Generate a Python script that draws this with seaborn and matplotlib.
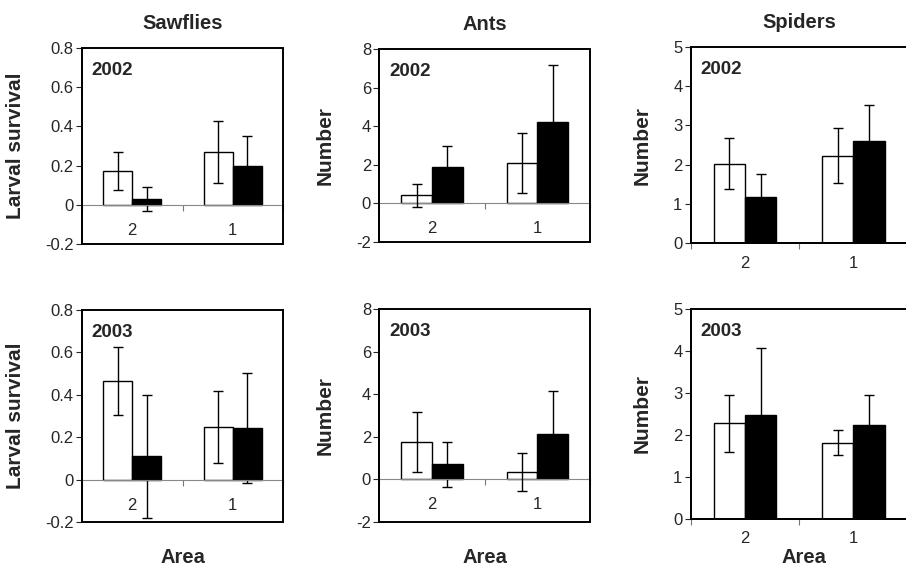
import numpy as np
import pandas as pd
import matplotlib
matplotlib.use("Agg")
import matplotlib.pyplot as plt
from matplotlib.patches import Rectangle
import seaborn as sns

# categories
areas = ["2", "1"]
groups = ["open", "filled"]

# Sawflies - larval survival (means and error half-widths, per area 2, 1)
saw_2002_open = [0.17, 0.27]
saw_2002_open_err = [0.097, 0.157]
saw_2002_filled = [0.03, 0.20]
saw_2002_filled_err = [0.06, 0.15]
saw_2003_open = [0.465, 0.25]
saw_2003_open_err = [0.16, 0.17]
saw_2003_filled = [0.11, 0.245]
saw_2003_filled_err = [0.29, 0.26]

# Ants - number
ant_2002_open = [0.42, 2.1]
ant_2002_open_err = [0.6, 1.55]
ant_2002_filled = [1.88, 4.24]
ant_2002_filled_err = [1.1, 2.95]
ant_2003_open = [1.74, 0.36]
ant_2003_open_err = [1.4, 0.9]
ant_2003_filled = [0.71, 2.13]
ant_2003_filled_err = [1.05, 2.0]

# Spiders - number
spi_2002_open = [2.02, 2.23]
spi_2002_open_err = [0.65, 0.7]
spi_2002_filled = [1.17, 2.61]
spi_2002_filled_err = [0.6, 0.9]
spi_2003_open = [2.28, 1.82]
spi_2003_open_err = [0.68, 0.3]
spi_2003_filled = [2.48, 2.24]
spi_2003_filled_err = [1.58, 0.72]

col_titles = ["Sawflies", "Ants", "Spiders"]
y_labels = ["Larval survival", "Number", "Number"]
y_ranges = [(-0.2, 0.8, 0.2), (-2, 8, 2), (0, 5, 1)]

panels = {
    (0, 0): (saw_2002_open, saw_2002_open_err, saw_2002_filled, saw_2002_filled_err, "2002"),
    (1, 0): (saw_2003_open, saw_2003_open_err, saw_2003_filled, saw_2003_filled_err, "2003"),
    (0, 1): (ant_2002_open, ant_2002_open_err, ant_2002_filled, ant_2002_filled_err, "2002"),
    (1, 1): (ant_2003_open, ant_2003_open_err, ant_2003_filled, ant_2003_filled_err, "2003"),
    (0, 2): (spi_2002_open, spi_2002_open_err, spi_2002_filled, spi_2002_filled_err, "2002"),
    (1, 2): (spi_2003_open, spi_2003_open_err, spi_2003_filled, spi_2003_filled_err, "2003"),
}

sns.set_style("white")
plt.rcParams["font.family"] = ["Liberation Sans", "DejaVu Sans"]
plt.rcParams["axes.unicode_minus"] = False

fig = plt.figure(figsize=(9.06, 5.67), dpi=100)

# axes boxes in figure fractions [left, bottom, width, height]
boxes = {
    (0, 0): [0.0905, 0.5697, 0.2219, 0.3457],
    (1, 0): [0.0905, 0.0794, 0.2219, 0.3739],
    (0, 1): [0.4187, 0.5732, 0.2326, 0.3404],
    (1, 1): [0.4187, 0.0794, 0.2326, 0.3757],
    (0, 2): [0.7624, 0.5714, 0.2395, 0.3457],
    (1, 2): [0.7624, 0.0847, 0.2395, 0.3704],
}
ylab_x = [-0.284, -0.21, -0.18]
area_pos = [(0.5, -0.123), (0.5, -0.12), (0.52, -0.14)]

for (r, c), (om, oe, fm, fe, year) in panels.items():
    ax = fig.add_axes(boxes[(r, c)])
    df = pd.DataFrame({
        "area": areas * 2,
        "group": [groups[0]] * 2 + [groups[1]] * 2,
        "mean": om + fm,
        "err": oe + fe,
    })
    sns.barplot(ax=ax, data=df, x="area", y="mean", hue="group",
                order=areas, hue_order=groups,
                palette={"open": "white", "filled": "black"},
                edgecolor="black", linewidth=1, width=0.58, gap=0,
                errorbar=None, legend=False, zorder=2)
    # open bars: whisker drawn over the bar; filled bars: hidden inside the bar
    for cont, g, z in zip(ax.containers, groups, [3, 1.5]):
        sub = df[df["group"] == g].set_index("area").loc[areas]
        xs = [b.get_x() + b.get_width() / 2 for b in cont]
        ax.errorbar(xs, sub["mean"], yerr=sub["err"], fmt="none",
                    ecolor="black", elinewidth=1, capsize=3.5, capthick=1, zorder=z)

    for s in ["top", "right"]:
        ax.spines[s].set_visible(False)
    ax.spines["left"].set_color("black")
    ax.spines["left"].set_linewidth(1.2)
    if c < 2:
        ax.spines["bottom"].set_position(("data", 0))
        ax.spines["bottom"].set_color("#888888")
        ax.spines["bottom"].set_linewidth(0.8)
    else:
        ax.spines["bottom"].set_color("black")
        ax.spines["bottom"].set_linewidth(1.4)
    ax.add_patch(Rectangle((0, 0), 1, 1, transform=ax.transAxes, fill=False,
                           edgecolor="black", linewidth=1.4, clip_on=False, zorder=5))

    lo, hi, step = y_ranges[c]
    ax.set_ylim(lo, hi)
    ax.set_xlim(-0.5, 1.5)
    ticks = np.round(np.arange(lo, hi + step / 2, step), 2)
    ax.set_yticks(ticks)
    ax.set_yticklabels([f"{t:g}" for t in ticks])
    ax.tick_params(axis="y", direction="out", length=4, width=0.8, pad=2,
                   left=True, labelsize=12)

    ax.set_xticks([-0.5, 0.5, 1.5])
    ax.set_xticklabels([])
    ax.set_xticks([0, 1], minor=True)
    ax.set_xticklabels(areas, minor=True)
    ax.tick_params(axis="x", which="major", direction="out", length=4, width=0.8,
                   color="#777777", bottom=True)
    ax.tick_params(axis="x", which="minor", length=0, labelsize=12,
                   pad=13 if c < 2 else 9)

    ax.set_ylabel(y_labels[c], fontsize=15, fontweight="bold")
    ax.yaxis.set_label_coords(ylab_x[c], 0.5)
    ax.set_xlabel("")
    if r == 0:
        ax.set_title(col_titles[c], fontsize=14.5, fontweight="bold", pad=14)
    else:
        ax.set_xlabel("Area", fontsize=14.5, fontweight="bold", va="top")
        ax.xaxis.set_label_coords(*area_pos[c])

    ax.annotate(year, xy=(0, 1), xycoords="axes fraction", xytext=(7, -10),
                textcoords="offset points", ha="left", va="top",
                fontsize=13.5, fontweight="bold")

fig.savefig("out.png", dpi=100)
